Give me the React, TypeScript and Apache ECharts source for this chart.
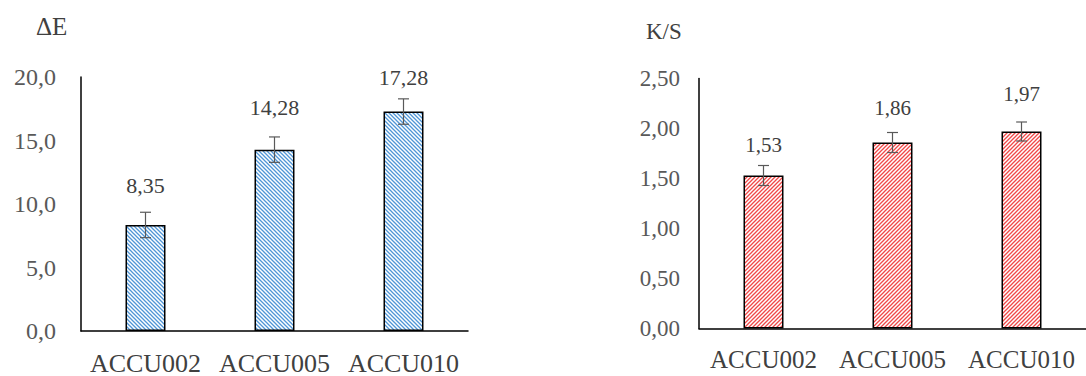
import React, { useEffect, useRef } from "react";
import * as echarts from "echarts";

const categories = ["ACCU002", "ACCU005", "ACCU010"];
const deltaE = [8.35, 14.28, 17.28];
const deltaEErr = [1.0, 1.0, 1.0];
const ks = [1.53, 1.86, 1.97];
const ksErr = [0.1, 0.1, 0.095];
const deltaETicks = { min: 0, max: 20, interval: 5 };
const ksTicks = { min: 0, max: 2.5, interval: 0.5 };

// label gaps above bars (style only)
const leftLabelGap = [28, 31, 23];
const rightLabelGap = [20, 24, 27];

const FONT = "Liberation Serif";

function makeHatch(color: string, dir: "down" | "up") {
  const s = 4;
  const c = document.createElement("canvas");
  c.width = s;
  c.height = s;
  const ctx = c.getContext("2d")!;
  ctx.fillStyle = "#ffffff";
  ctx.fillRect(0, 0, s, s);
  ctx.strokeStyle = color;
  ctx.lineWidth = 1.3;
  ctx.beginPath();
  if (dir === "down") {
    ctx.moveTo(-1, -1);
    ctx.lineTo(s + 1, s + 1);
    ctx.moveTo(-1, s - 1);
    ctx.lineTo(1, s + 1);
    ctx.moveTo(s - 1, -1);
    ctx.lineTo(s + 1, 1);
  } else {
    ctx.moveTo(-1, s + 1);
    ctx.lineTo(s + 1, -1);
    ctx.moveTo(-1, 1);
    ctx.lineTo(1, -1);
    ctx.moveTo(s - 1, s + 1);
    ctx.lineTo(s + 1, s - 1);
  }
  ctx.stroke();
  return c;
}

function errorRender(params: any, api: any) {
  const x = api.value(0);
  const v = api.value(1);
  const e = api.value(2);
  const top = api.coord([x, v + e]);
  const bot = api.coord([x, v - e]);
  const hw = 5.5;
  const style = { stroke: "#595959", lineWidth: 1.2 };
  return {
    type: "group",
    children: [
      { type: "line", shape: { x1: top[0], y1: top[1], x2: bot[0], y2: bot[1] }, style },
      { type: "line", shape: { x1: top[0] - hw, y1: top[1], x2: top[0] + hw, y2: top[1] }, style },
      { type: "line", shape: { x1: bot[0] - hw, y1: bot[1], x2: bot[0] + hw, y2: bot[1] }, style },
    ],
  };
}

export default function App() {
  const ref = useRef<HTMLDivElement>(null);
  useEffect(() => {
    if (!ref.current) return;
    const chart = echarts.init(ref.current, undefined, { renderer: "svg" });
    const blue = makeHatch("#4f95d6", "down");
    const red = makeHatch("#f04848", "up");
    const commaFmt = (d: number) => (v: number) => v.toFixed(d).replace(".", ",");

    const xAxisBase = (gridIndex: number, margin: number, size: number) => ({
      type: "category",
      gridIndex,
      data: categories,
      axisLine: { show: true, lineStyle: { color: "#000", width: 1.5 } },
      axisTick: { show: false },
      axisLabel: { interval: 0, margin, fontSize: size, color: "#404040", fontFamily: FONT },
    });
    const yAxisBase = (gridIndex: number, ticks: any, dec: number, margin: number, size: number) => ({
      type: "value",
      gridIndex,
      min: ticks.min,
      max: ticks.max,
      interval: ticks.interval,
      axisLine: { show: true, lineStyle: { color: "#000", width: 1.5 } },
      axisTick: { show: false },
      splitLine: { show: false },
      axisLabel: { margin, fontSize: size, color: "#595959", fontFamily: FONT, formatter: commaFmt(dec) },
    });

    chart.setOption({
      animation: false,
      backgroundColor: "#ffffff",
      textStyle: { fontFamily: FONT },
      grid: [
        { left: 81, top: 77, width: 387, height: 257 },
        { left: 699, top: 78.5, width: 400, height: 250 },
      ],
      xAxis: [xAxisBase(0, 19, 26), xAxisBase(1, 18, 25)],
      yAxis: [yAxisBase(0, deltaETicks, 1, 25, 24), yAxisBase(1, ksTicks, 2, 19, 23)],
      graphic: [
        { type: "text", left: 36, top: 14, style: { text: "ΔE", fontSize: 25, fontFamily: FONT, fill: "#404040" } },
        { type: "text", left: 646, top: 20, style: { text: "K/S", fontSize: 23, fontFamily: FONT, fill: "#404040" } },
      ],
      series: [
        {
          type: "bar",
          xAxisIndex: 0,
          yAxisIndex: 0,
          barWidth: "31%",
          data: deltaE.map((v, i) => ({
            value: v,
            label: { distance: leftLabelGap[i] },
          })),
          itemStyle: { color: { image: blue, repeat: "repeat" } as any, borderColor: "#000", borderWidth: 1.5 },
          label: {
            show: true,
            position: "top",
            fontSize: 22,
            fontFamily: FONT,
            color: "#404040",
            formatter: (p: any) => p.value.toFixed(2).replace(".", ","),
          },
        },
        {
          type: "custom",
          xAxisIndex: 0,
          yAxisIndex: 0,
          renderItem: errorRender,
          data: deltaE.map((v, i) => [i, v, deltaEErr[i]]),
          z: 10,
        },
        {
          type: "bar",
          xAxisIndex: 1,
          yAxisIndex: 1,
          barWidth: "31%",
          data: ks.map((v, i) => ({
            value: v,
            label: { distance: rightLabelGap[i] },
          })),
          itemStyle: { color: { image: red, repeat: "repeat" } as any, borderColor: "#000", borderWidth: 1.5 },
          label: {
            show: true,
            position: "top",
            fontSize: 21,
            fontFamily: FONT,
            color: "#404040",
            formatter: (p: any) => p.value.toFixed(2).replace(".", ","),
          },
        },
        {
          type: "custom",
          xAxisIndex: 1,
          yAxisIndex: 1,
          renderItem: errorRender,
          data: ks.map((v, i) => [i, v, ksErr[i]]),
          z: 10,
        },
      ],
    });
    return () => chart.dispose();
  }, []);
  return (
    <div
      ref={ref}
      style={{ position: "absolute", left: 0, top: 0, width: 1086, height: 376, background: "#fff" }}
    />
  );
}
